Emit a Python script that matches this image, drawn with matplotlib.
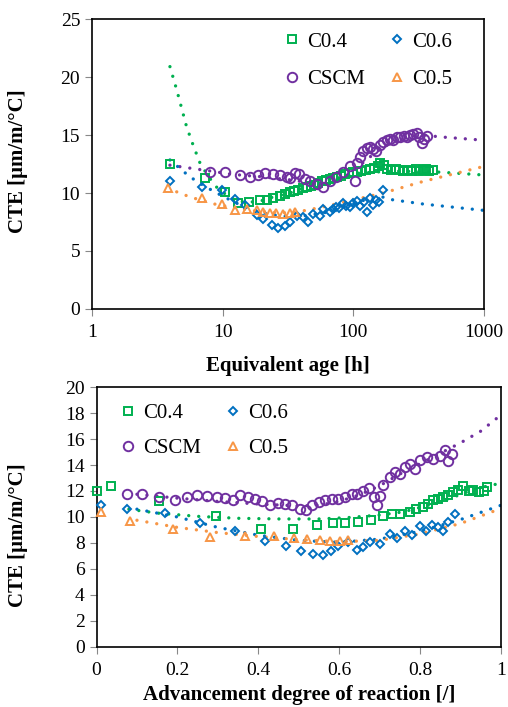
import matplotlib
matplotlib.use("Agg")
import matplotlib.pyplot as plt
from matplotlib.ticker import FixedLocator, NullLocator

plt.rcParams["font.family"] = ["Liberation Serif", "DejaVu Serif"]

GREEN = "#00B050"
BLUE = "#0070C0"
PURPLE = "#7030A0"
ORANGE = "#F79646"

# ---- top panel: CTE vs equivalent age [h] ----
age_c04 = [3.95, 7.3, 10.4, 13.2, 16, 19.3, 21.7, 24.4, 27.4, 30, 32.7, 35, 38, 41, 44, 47, 50,
           54, 58, 62, 66, 70, 75, 80, 86, 92, 100, 106, 115, 125, 135, 145, 155, 160, 170,
           180, 195, 210, 225, 240, 260, 280, 300, 320, 340, 360, 380, 405]
cte_c04 = [12.5, 11.3, 10.1, 9.1, 9.2, 9.4, 9.4, 9.6, 9.7, 9.9, 10.1, 10.2, 10.3, 10.4, 10.5,
           10.6, 10.7, 10.9, 11.0, 11.1, 11.2, 11.3, 11.4, 11.5, 11.6, 11.7, 11.8, 11.8, 11.9,
           12.0, 12.1, 12.2, 12.3, 12.6, 12.4, 12.1, 12.0, 12.1, 12.0, 11.9, 12.0, 11.9, 12.1,
           11.9, 12.0, 12.1, 11.9, 12.0]

age_cscm = [8.0, 10.4, 13.6, 16.2, 18.7, 21.1, 24.4, 27.4, 30.9, 32.7, 35.8, 38.5, 42.6, 46.5,
            52.4, 58.7, 66, 74, 83, 94, 103, 106, 112, 119, 127, 134, 142, 150, 160, 169, 180,
            190, 202, 214, 228, 242, 256, 270, 287, 304, 318, 332, 348, 364]
cte_cscm = [11.8, 11.8, 11.55, 11.35, 11.55, 11.75, 11.6, 11.55, 11.4, 11.3, 11.7, 11.6, 11.2,
            11.0, 10.8, 10.55, 11.0, 11.4, 11.8, 12.3, 11.0, 12.6, 13.1, 13.6, 13.9, 14.0, 13.8,
            13.6, 14.1, 14.4, 14.6, 14.7, 14.6, 14.8, 14.8, 14.9, 14.8, 15.0, 15.1, 15.2, 14.8,
            14.3, 14.7, 14.9]

age_c06 = [3.95, 6.9, 9.8, 12.4, 14.8, 18.2, 20.4, 23.7, 26.6, 30, 32.7, 36.8, 41.4, 45, 49.3,
           55.5, 58.7, 66, 70, 74, 78, 83, 88, 94, 100, 106, 112, 120, 127, 134, 142, 150, 158,
           167]
cte_c06 = [11.0, 10.55, 10.25, 9.45, 9.0, 8.1, 7.8, 7.25, 7.0, 7.15, 7.5, 8.0, 7.95, 7.5, 8.2,
           8.05, 8.6, 8.35, 8.6, 8.8, 8.7, 9.1, 8.9, 8.8, 9.1, 9.3, 8.85, 9.2, 8.35, 9.6, 9.0,
           9.4, 9.2, 10.25]

age_c05 = [3.83, 6.9, 9.8, 12.4, 15.3, 18.2, 20.5, 23, 25.8, 29, 32.7, 35.8]
cte_c05 = [10.4, 9.55, 9.05, 8.5, 8.6, 8.5, 8.4, 8.3, 8.25, 8.2, 8.3, 8.4]

# trend lines
fit_age_c04 = [3.95, 4.45, 5.3, 6.0, 6.7, 7.8, 9.0, 10.5, 12.8, 16, 20, 25, 32.7, 45, 65, 106,
               200, 460, 1000]
fit_cte_c04 = [20.9, 18.9, 15.7, 14.0, 12.6, 11.4, 10.5, 9.9, 9.3, 9.2, 9.35, 9.7, 10.0, 10.6,
               11.1, 11.7, 11.9, 11.8, 11.55]
fit_age_cscm = [3.95, 6, 8, 12, 20, 35, 50, 60, 75, 100, 130, 170, 250, 350, 450, 1000]
fit_cte_cscm = [12.4, 12.1, 11.9, 11.6, 11.4, 11.1, 10.8, 10.7, 11.0, 11.9, 13.0, 14.0, 14.8,
                15.0, 14.85, 14.55]
fit_age_c06 = [3.95, 5.6, 7.5, 10.1, 14, 20, 28, 40, 60, 90, 130, 170, 190, 342, 1000]
fit_cte_c06 = [12.85, 11.4, 10.5, 9.7, 8.9, 8.3, 8.0, 8.0, 8.3, 8.9, 9.5, 9.65, 9.45, 9.05, 8.5]
fit_age_c05 = [4.45, 5.5, 6.7, 9, 12, 18, 26, 35, 58.7, 100, 169, 342, 1000]
fit_cte_c05 = [10.1, 9.7, 9.4, 9.0, 8.75, 8.45, 8.3, 8.3, 8.8, 9.4, 10.0, 11.0, 12.3]

# ---- bottom panel: CTE vs advancement degree of reaction ----
adv_c04 = [0.0, 0.035, 0.154, 0.295, 0.406, 0.485, 0.546, 0.584, 0.615, 0.646, 0.68, 0.709,
           0.73, 0.75, 0.775, 0.79, 0.808, 0.82, 0.833, 0.845, 0.858, 0.87, 0.882, 0.895,
           0.907, 0.92, 0.932, 0.945, 0.957, 0.965]
cte2_c04 = [12.0, 12.4, 11.25, 10.1, 9.05, 9.1, 9.35, 9.5, 9.55, 9.6, 9.8, 10.1, 10.2, 10.2,
            10.4, 10.6, 10.8, 11.0, 11.3, 11.4, 11.5, 11.7, 11.95, 12.1, 12.4, 12.0, 12.1, 11.9,
            12.0, 12.3]

adv_c06 = [0.012, 0.076, 0.169, 0.256, 0.342, 0.417, 0.469, 0.505, 0.535, 0.56, 0.579, 0.598,
           0.623, 0.644, 0.66, 0.676, 0.7, 0.726, 0.742, 0.763, 0.78, 0.8, 0.815, 0.83, 0.845,
           0.858, 0.87, 0.887]
cte2_c06 = [10.9, 10.65, 10.3, 9.5, 8.9, 8.15, 7.8, 7.35, 7.15, 7.1, 7.35, 7.75, 8.1, 7.45,
            7.7, 8.1, 7.9, 8.7, 8.4, 8.9, 8.6, 9.3, 8.9, 9.4, 9.2, 8.9, 9.6, 10.2]

adv_c05 = [0.012, 0.082, 0.188, 0.28, 0.367, 0.439, 0.488, 0.521, 0.553, 0.578, 0.602, 0.623]
cte2_c05 = [10.35, 9.7, 9.1, 8.45, 8.55, 8.5, 8.4, 8.3, 8.2, 8.15, 8.15, 8.25]

adv_cscm = [0.076, 0.113, 0.154, 0.194, 0.224, 0.249, 0.273, 0.297, 0.318, 0.337, 0.355, 0.375,
            0.393, 0.41, 0.429, 0.449, 0.467, 0.484, 0.502, 0.518, 0.532, 0.549, 0.566, 0.582,
            0.598, 0.615, 0.631, 0.645, 0.66, 0.675, 0.685, 0.693, 0.7, 0.709, 0.726, 0.738,
            0.75, 0.763, 0.775, 0.788, 0.8, 0.817, 0.833, 0.85, 0.862, 0.87, 0.878]
cte2_cscm = [11.75, 11.75, 11.55, 11.3, 11.5, 11.7, 11.6, 11.55, 11.45, 11.3, 11.7, 11.55, 11.4,
             11.2, 10.95, 11.1, 11.0, 10.9, 10.65, 10.55, 10.95, 11.15, 11.3, 11.4, 11.4, 11.55,
             11.75, 11.8, 12.0, 12.2, 11.55, 10.95, 11.6, 12.45, 13.1, 13.5, 13.3, 13.85, 14.1,
             13.7, 14.4, 14.6, 14.5, 14.7, 15.15, 14.3, 14.85]

fit_adv_c04 = [0.08, 0.15, 0.25, 0.35, 0.45, 0.55, 0.62, 0.7, 0.76, 0.82, 0.88, 0.94, 1.0]
fit_cte2_c04 = [10.6, 10.3, 10.05, 9.9, 9.85, 9.85, 9.95, 10.15, 10.4, 10.9, 11.5, 12.2, 12.6]
fit_adv_c06 = [0.1, 0.2, 0.3, 0.4, 0.5, 0.6, 0.7, 0.8, 0.9, 1.0]
fit_cte2_c06 = [10.6, 10.0, 9.2, 8.6, 8.2, 8.05, 8.3, 8.9, 9.8, 10.9]
fit_adv_c05 = [0.1, 0.2, 0.3, 0.4, 0.5, 0.6, 0.7, 0.8, 0.9, 1.0]
fit_cte2_c05 = [9.75, 9.2, 8.8, 8.5, 8.25, 8.1, 8.2, 8.7, 9.5, 10.65]
fit_adv_cscm = [0.1, 0.2, 0.3, 0.4, 0.5, 0.55, 0.6, 0.65, 0.7, 0.75, 0.8, 0.85, 0.9, 0.95, 0.99]
fit_cte2_cscm = [11.75, 11.45, 11.2, 11.0, 10.85, 10.9, 11.2, 11.7, 12.4, 13.3, 14.1, 14.9, 15.7,
                 16.6, 17.6]

DOT = (0, (0.01, 3.0))


def draw_fit(ax, x, y, color):
    ax.plot(x, y, color=color, linestyle=DOT, linewidth=2.4, dash_capstyle="round", zorder=2)


def draw_points(ax, x, y, color, marker, size, label):
    return ax.plot(x, y, linestyle="none", marker=marker, markersize=size, markerfacecolor="none",
                   markeredgecolor=color, markeredgewidth=1.4, label=label, clip_on=False,
                   zorder=3)[0]


def style_axes(ax):
    for sp in ax.spines.values():
        sp.set_color("black")
        sp.set_linewidth(1.2)
    ax.tick_params(axis="both", which="major", direction="out", length=5, width=0.8,
                   color="#888888", labelsize=14, labelcolor="black")
    ax.tick_params(axis="x", pad=6)


fig = plt.figure(figsize=(5.08, 7.07), dpi=100)

# top
ax1 = fig.add_axes([0.181, 0.563, 0.772, 0.410])
draw_fit(ax1, fit_age_c04, fit_cte_c04, GREEN)
draw_fit(ax1, fit_age_cscm, fit_cte_cscm, PURPLE)
draw_fit(ax1, fit_age_c06, fit_cte_c06, BLUE)
draw_fit(ax1, fit_age_c05, fit_cte_c05, ORANGE)
h04 = draw_points(ax1, age_c04, cte_c04, GREEN, "s", 6.3, "C0.4")
hcs = draw_points(ax1, age_cscm, cte_cscm, PURPLE, "o", 6.8, "CSCM")
h06 = draw_points(ax1, age_c06, cte_c06, BLUE, "D", 4.3, "C0.6")
h05 = draw_points(ax1, age_c05, cte_c05, ORANGE, "^", 6.3, "C0.5")
ax1.set_xscale("log")
ax1.set_xlim(1, 1000)
ax1.set_ylim(0, 25)
ax1.xaxis.set_major_locator(FixedLocator([1, 10, 100, 1000]))
ax1.xaxis.set_minor_locator(NullLocator())
ax1.set_xticklabels(["1", "10", "100", "1000"])
ax1.set_yticks([0, 5, 10, 15, 20, 25])
style_axes(ax1)
ax1.set_xlabel("Equivalent age [h]", fontsize=15, fontweight="bold")
ax1.set_ylabel("CTE [μm/m/°C]", fontsize=15, fontweight="bold")
ax1.yaxis.set_label_coords(-0.163, 0.51)
ax1.xaxis.set_label_coords(0.5, -0.163)
ax1.legend([h04, hcs, h06, h05], ["C0.4", "CSCM", "C0.6", "C0.5"], ncol=2, frameon=False,
           loc="upper left", bbox_to_anchor=(0.49, 0.955), borderpad=0, handlelength=0.8,
           handletextpad=0.3, columnspacing=1.15, labelspacing=0.85, fontsize=15,
           borderaxespad=0)

# bottom
ax2 = fig.add_axes([0.190, 0.0849, 0.796, 0.3677])
draw_fit(ax2, fit_adv_c04, fit_cte2_c04, GREEN)
draw_fit(ax2, fit_adv_cscm, fit_cte2_cscm, PURPLE)
draw_fit(ax2, fit_adv_c06, fit_cte2_c06, BLUE)
draw_fit(ax2, fit_adv_c05, fit_cte2_c05, ORANGE)
g04 = draw_points(ax2, adv_c04, cte2_c04, GREEN, "s", 6.3, "C0.4")
gcs = draw_points(ax2, adv_cscm, cte2_cscm, PURPLE, "o", 6.8, "CSCM")
g06 = draw_points(ax2, adv_c06, cte2_c06, BLUE, "D", 4.3, "C0.6")
g05 = draw_points(ax2, adv_c05, cte2_c05, ORANGE, "^", 6.3, "C0.5")
ax2.set_xlim(0, 1)
ax2.set_ylim(0, 20)
ax2.set_xticks([0, 0.2, 0.4, 0.6, 0.8, 1.0])
ax2.set_xticklabels(["0", "0.2", "0.4", "0.6", "0.8", "1"])
ax2.set_yticks(range(0, 21, 2))
style_axes(ax2)
ax2.set_xlabel("Advancement degree of reaction [/]", fontsize=15, fontweight="bold")
ax2.set_ylabel("CTE [μm/m/°C]", fontsize=15, fontweight="bold")
ax2.yaxis.set_label_coords(-0.169, 0.43)
ax2.xaxis.set_label_coords(0.5, -0.145)
ax2.legend([g04, gcs, g06, g05], ["C0.4", "CSCM", "C0.6", "C0.5"], ncol=2, frameon=False,
           loc="upper left", bbox_to_anchor=(0.058, 0.935), borderpad=0, handlelength=0.8,
           handletextpad=0.3, columnspacing=1.15, labelspacing=0.72, fontsize=15,
           borderaxespad=0)

fig.savefig("out.png", dpi=100)
